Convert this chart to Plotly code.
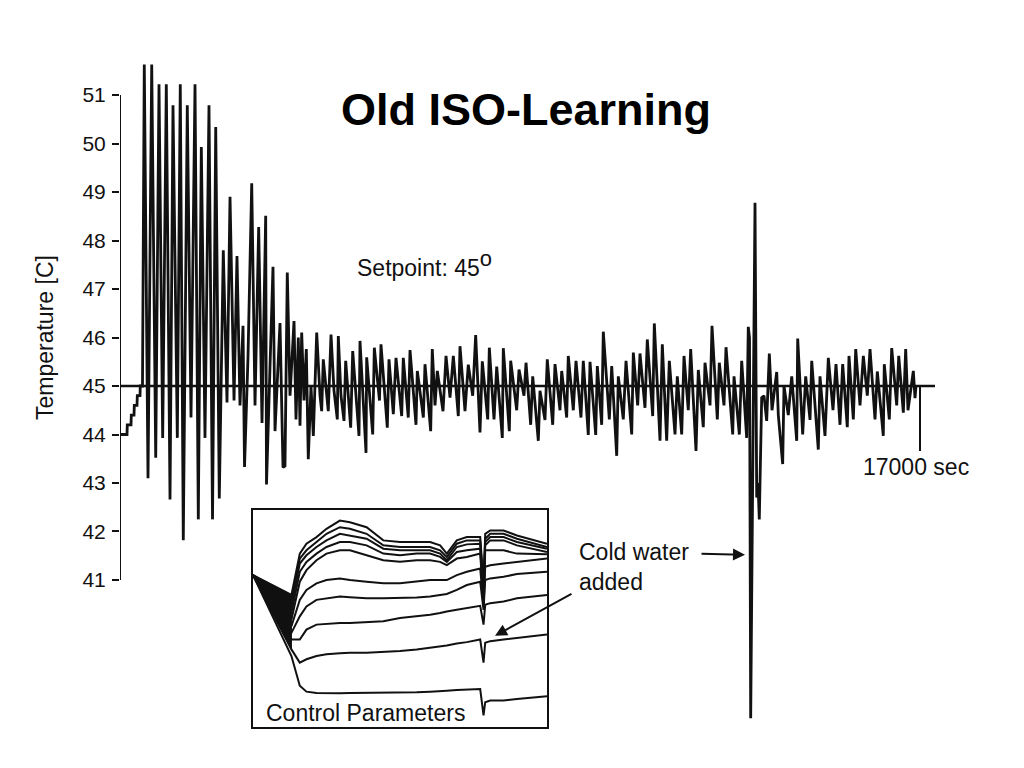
import plotly.graph_objects as go

# ---------------- main temperature signal (seconds, deg C) ----------------
time_s = [0, 149, 155, 234, 240, 298, 304, 361, 368, 425, 431, 478,
          516, 595, 674, 759, 829, 907, 984, 1063, 1126, 1218, 1281, 1345, 1430, 1509,
          1594, 1664, 1728, 1806, 1891, 1966, 2034, 2110, 2195, 2274, 2338, 2423, 2486,
          2550, 2614, 2646, 2720, 2799, 2869, 2947, 3018, 3096, 3113, 3188, 3251, 3294,
          3400, 3464, 3506, 3555, 3613, 3698, 3740, 3789, 3825, 3861, 3910, 3959, 4001,
          4059, 4108, 4180, 4250, 4286, 4320, 4426, 4484, 4548, 4618, 4639, 4696, 4760,
          4796, 4902, 4945, 5015, 5079, 5100, 5164, 5228, 5242, 5370, 5404, 5483, 5514,
          5546, 5680, 5716, 5808, 5865, 5986, 6020, 6126, 6163, 6290, 6318, 6446, 6481,
          6602, 6636, 6694, 6743, 6864, 6928, 7013, 7083, 7189, 7225, 7331, 7401, 7495,
          7558, 7650, 7699, 7814, 7848, 7948, 8005, 8124, 8145, 8273, 8302, 8430, 8479,
          8585, 8628, 8727, 8770, 8889, 8925, 9031, 9080, 9195, 9244, 9350, 9386, 9492,
          9526, 9633, 9690, 9796, 9845, 9951, 9988, 10109, 10143, 10236, 10270, 10398,
          10449, 10555, 10589, 10695, 10753, 10874, 10908, 11001, 11050, 11156, 11205,
          11320, 11354, 11475, 11524, 11617, 11673, 11794, 11843, 11936, 11985, 12076,
          12127, 12240, 12289, 12395, 12431, 12538, 12580, 12693, 12735, 12835, 12878,
          13020, 13048, 13161, 13211, 13317, 13351, 13377, 13402, 13494, 13530, 13558,
          13585, 13636, 13685, 13742, 13798, 13855, 13955, 13989, 14082, 14110, 14201,
          14274, 14380, 14401, 14507, 14571, 14663, 14699, 14839, 14875, 14981, 15052,
          15151, 15215, 15300, 15357, 15455, 15491, 15583, 15634, 15725, 15796, 15880,
          15938, 16044, 16093, 16220, 16241, 16348, 16399, 16505, 16548, 16646, 16696,
          16745, 16858, 16894, 16915]

temperature = [44.0, 44.0, 44.2, 44.2, 44.4, 44.4, 44.6, 44.6, 44.8, 44.8, 45.0, 45.0,
               51.63, 43.1, 51.63, 43.52, 51.22, 43.93, 51.22, 42.66, 50.79, 43.93, 51.22, 41.82,
               50.79, 44.35, 51.22, 42.25, 49.93, 43.93, 50.79, 42.25, 50.34, 42.68, 47.8, 44.66,
               48.9, 44.7, 47.68, 44.6, 46.24, 43.33, 45.6, 49.18, 44.6, 48.28, 44.24, 48.51,
               42.97, 45.3, 47.46, 44.07, 46.3, 43.32, 43.35, 47.34, 44.8, 46.34, 44.31, 46.0,
               44.18, 46.1, 44.7, 45.76, 43.49, 45.0, 43.97, 46.1, 44.8, 44.48, 45.55, 44.48,
               46.06, 44.9, 44.31, 46.03, 44.8, 44.28, 45.52, 44.14, 45.72, 44.8, 43.97, 45.93,
               44.7, 43.62, 45.59, 44.0, 45.79, 44.9, 44.7, 45.86, 44.14, 45.55, 44.42, 45.58,
               44.38, 45.58, 44.35, 45.74, 44.2, 45.31, 44.35, 45.45, 44.07, 45.76, 44.6, 45.31,
               44.48, 45.62, 44.76, 45.62, 44.38, 45.82, 44.48, 45.44, 44.8, 46.05, 44.04, 45.51,
               44.31, 45.79, 44.31, 45.4, 43.93, 45.78, 44.07, 45.52, 44.5, 45.34, 44.8, 45.48,
               44.2, 45.2, 43.87, 44.9, 44.3, 45.55, 44.2, 45.45, 44.5, 45.31, 44.35, 45.62,
               44.5, 45.52, 44.35, 45.52, 43.99, 45.5, 43.99, 45.41, 44.2, 46.12, 44.31, 45.41,
               43.56, 45.2, 44.31, 45.52, 44.0, 45.69, 44.6, 45.67, 44.55, 45.96, 44.38, 46.29,
               43.87, 45.86, 43.87, 45.52, 44.0, 45.2, 44.0, 45.62, 44.5, 45.76, 43.66, 45.33,
               44.15, 45.48, 44.6, 46.24, 44.31, 45.48, 44.6, 45.8, 44.0, 45.2, 44.0, 45.52,
               43.93, 46.22, 46.0, 38.15, 48.78, 42.7, 43.0, 42.25, 44.76, 44.8, 44.28, 45.67,
               44.5, 45.29, 44.4, 43.39, 45.0, 44.4, 45.2, 43.87, 45.98, 44.0, 45.2, 44.3,
               45.52, 43.69, 45.2, 43.97, 45.58, 44.5, 45.45, 44.2, 45.45, 44.15, 45.62, 44.31,
               45.76, 44.6, 45.62, 44.8, 45.76, 44.31, 45.3, 43.97, 45.45, 44.31, 45.78, 44.6,
               45.62, 44.45, 45.76, 44.5, 45.31, 44.75, 45.0]

ytick_vals = [41, 42, 43, 44, 45, 46, 47, 48, 49, 50, 51]
setpoint = 45
end_time = 17000

# ---------------- inset: control parameters (arbitrary units) ----------------
inset_time = [0, 2222, 2705, 3091, 3671, 4250, 5023, 5603, 6569, 7535, 8501, 9467,
              10240, 10819, 11206, 11785, 12365, 13138, 13331, 13428, 13717, 14490, 15263, 17000]

param_1 = [4.60, 4.00, 5.25, 5.55, 5.75, 6.00, 6.25, 6.20, 6.05, 5.65, 5.60, 5.60, 5.60, 5.50, 5.25, 5.65, 5.75, 5.75, 4.35, 5.85, 5.95, 5.95, 5.80, 5.55]
param_2 = [4.60, 3.85, 5.10, 5.35, 5.60, 5.85, 6.05, 6.00, 5.85, 5.50, 5.45, 5.45, 5.45, 5.35, 5.15, 5.55, 5.65, 5.65, 4.15, 5.70, 5.85, 5.85, 5.70, 5.45]
param_3 = [4.60, 3.65, 4.95, 5.20, 5.45, 5.65, 5.85, 5.80, 5.70, 5.40, 5.35, 5.35, 5.35, 5.25, 5.05, 5.45, 5.53, 5.55, 3.95, 5.60, 5.75, 5.75, 5.60, 5.40]
param_4 = [4.60, 3.45, 4.70, 5.00, 5.25, 5.45, 5.60, 5.60, 5.50, 5.25, 5.20, 5.25, 5.25, 5.15, 5.00, 5.30, 5.35, 5.40, 3.85, 5.50, 5.65, 5.65, 5.50, 5.30]
param_5 = [4.60, 3.25, 4.40, 4.75, 5.05, 5.25, 5.35, 5.35, 5.20, 5.05, 5.00, 5.05, 5.05, 5.00, 4.90, 5.10, 5.15, 5.25, 3.75, 5.35, 5.35, 5.35, 5.25, 5.23]
param_6 = [4.60, 3.05, 3.85, 4.15, 4.35, 4.45, 4.50, 4.45, 4.40, 4.35, 4.35, 4.40, 4.45, 4.45, 4.45, 4.60, 4.70, 4.80, 3.65, 4.85, 4.90, 4.95, 5.00, 5.10]
param_7 = [4.60, 2.85, 3.35, 3.65, 3.85, 3.90, 3.95, 3.93, 3.90, 3.90, 3.90, 3.92, 3.95, 4.00, 4.03, 4.15, 4.30, 4.40, 3.55, 4.45, 4.50, 4.55, 4.63, 4.70]
param_8 = [4.60, 2.65, 2.65, 2.95, 3.10, 3.13, 3.15, 3.15, 3.17, 3.20, 3.30, 3.35, 3.40, 3.45, 3.50, 3.55, 3.60, 3.67, 3.10, 3.70, 3.75, 3.80, 3.90, 4.00]
param_9 = [4.60, 2.35, 1.95, 2.05, 2.15, 2.20, 2.23, 2.25, 2.25, 2.27, 2.30, 2.35, 2.40, 2.45, 2.47, 2.53, 2.57, 2.65, 1.95, 2.55, 2.60, 2.65, 2.70, 2.80]
param_10 = [4.60, 2.15, 1.25, 1.07, 1.03, 1.02, 1.02, 1.03, 1.03, 1.04, 1.05, 1.05, 1.07, 1.08, 1.10, 1.12, 1.13, 1.15, 0.35, 0.75, 0.80, 0.80, 0.85, 0.93]
params = [param_1, param_2, param_3, param_4, param_5, param_6, param_7, param_8, param_9, param_10]

FONT = "Liberation Sans, Arial, sans-serif"
INK = "#111111"
X_END = 17318.75

fig = go.Figure()
fig.add_trace(go.Scatter(x=time_s, y=temperature, mode="lines",
                         line=dict(color=INK, width=2.8), xaxis="x", yaxis="y",
                         hoverinfo="skip"))

# dense fan of the early parameter oscillations (filled between outer curves)
fan_t = inset_time[:2] + inset_time[1::-1]
fan_v = param_1[:2] + param_9[1::-1]
fig.add_trace(go.Scatter(x=fan_t, y=fan_v, mode="lines", fill="toself",
                         fillcolor=INK, line=dict(color=INK, width=1),
                         xaxis="x2", yaxis="y2", hoverinfo="skip"))
for p in params:
    fig.add_trace(go.Scatter(x=inset_time, y=p, mode="lines",
                             line=dict(color=INK, width=2), xaxis="x2", yaxis="y2",
                             hoverinfo="skip"))

fig.update_layout(
    width=1024, height=768,
    margin=dict(l=112, r=97, t=42, b=46),
    paper_bgcolor="white", plot_bgcolor="white",
    showlegend=False, hovermode=False,
    font=dict(family=FONT, color=INK, size=23),
    xaxis=dict(domain=[0, 1], range=[0, X_END], visible=False, fixedrange=True),
    yaxis=dict(range=[37.907, 51.928], tickvals=ytick_vals, ticks="outside",
               ticklen=7, tickwidth=2, tickcolor=INK, showgrid=False, zeroline=False,
               showline=False, tickfont=dict(size=21, family=FONT, color=INK),
               ticklabelstandoff=2),
    xaxis2=dict(domain=[0.1632, 0.5239], range=[0, 17000], anchor="y2",
                showline=True, mirror=True, linecolor=INK, linewidth=1.6,
                showticklabels=False, ticks="", showgrid=False, zeroline=False),
    yaxis2=dict(domain=[0.0044, 0.3235], range=[0, 6.57], anchor="x2",
                showline=True, mirror=True, linecolor=INK, linewidth=1.6,
                showticklabels=False, ticks="", showgrid=False, zeroline=False),
)

# y axis spine only between 41 and 51
fig.add_shape(type="line", xref="x", yref="y", x0=0, x1=0,
              y0=ytick_vals[0], y1=ytick_vals[-1], line=dict(color=INK, width=2))
# setpoint line
fig.add_shape(type="line", xref="x", yref="y", x0=0, x1=X_END,
              y0=setpoint, y1=setpoint, line=dict(color=INK, width=2.4))
# end-time marker
fig.add_shape(type="line", xref="x", yref="y", x0=end_time, x1=end_time,
              y0=setpoint, y1=43.66, line=dict(color=INK, width=2))

fig.add_annotation(text="<b>Old ISO-Learning</b>", x=8628, y=50.71, xref="x", yref="y",
                   showarrow=False, font=dict(size=45, family=FONT, color="black"))
fig.add_annotation(text="Setpoint: 45<sup><span style='font-size:22px'>o</span></sup>",
                   x=4994, y=47.52, xref="x", yref="y",
                   xanchor="left", showarrow=False, font=dict(size=23))
fig.add_annotation(text="17000 sec", x=16915, y=43.33, xref="x", yref="y",
                   showarrow=False, font=dict(size=23))
fig.add_annotation(text="Cold water<br>added", x=9711, y=41.27, xref="x", yref="y",
                   xanchor="left", align="left", showarrow=False, font=dict(size=23))
fig.add_annotation(text="", x=13281, y=41.52, ax=12325, ay=41.54, xref="x", yref="y",
                   axref="x", ayref="y", showarrow=True, arrowhead=2, arrowsize=1.2,
                   arrowwidth=2, arrowcolor=INK)
fig.add_annotation(text="", x=7969, y=39.85, ax=9626, ay=40.73, xref="x", yref="y",
                   axref="x", ayref="y", showarrow=True, arrowhead=2, arrowsize=1.2,
                   arrowwidth=2, arrowcolor=INK)
fig.add_annotation(text="Control Parameters", x=618, y=0.43, xref="x2", yref="y2",
                   xanchor="left", showarrow=False, font=dict(size=23))
fig.add_annotation(text="Temperature [C]", x=-0.092, y=45.99, xref="paper", yref="y",
                   xanchor="center", textangle=-90, showarrow=False, font=dict(size=23))

fig.write_html("out.html")
